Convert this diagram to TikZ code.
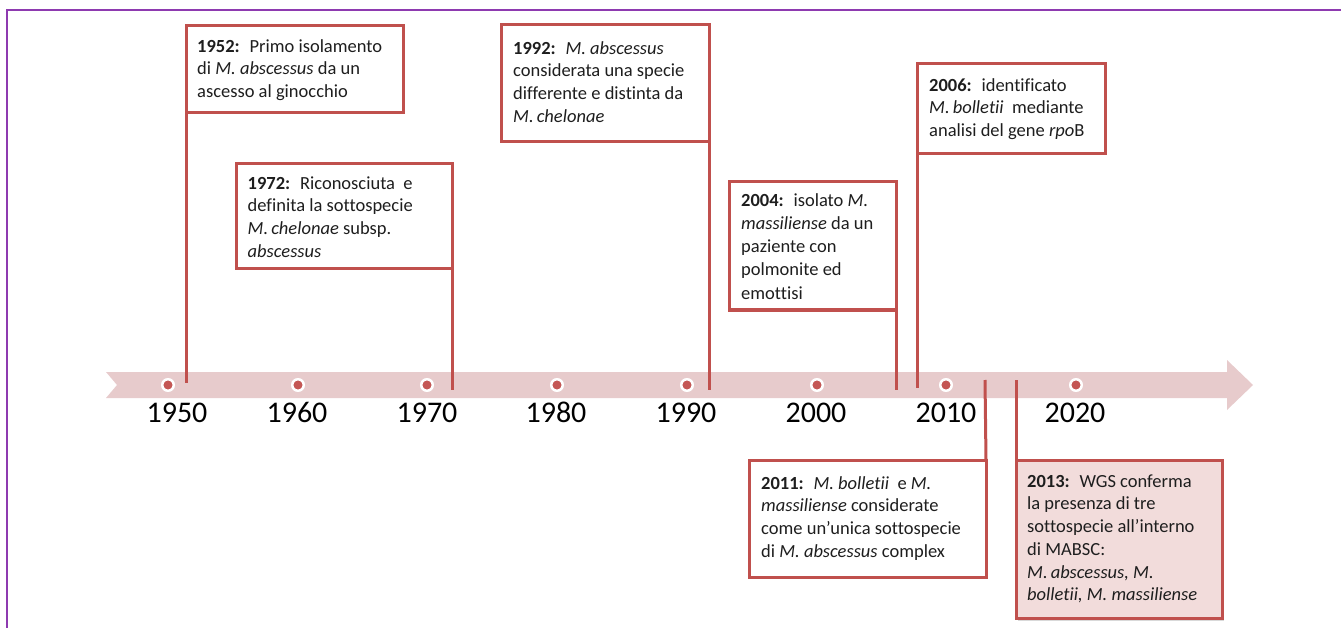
\documentclass[tikz,border=0pt]{standalone}
\usepackage{fontspec}
\setmainfont{Carlito}[Ligatures=NoCommon]
\usetikzlibrary{shadows}
\definecolor{boxred}{RGB}{192,80,77}
\definecolor{bandpink}{RGB}{231,203,204}
\definecolor{dotred}{RGB}{196,86,84}
\definecolor{framepurple}{RGB}{142,58,176}
\definecolor{boxfill}{RGB}{242,220,219}
\definecolor{txt}{RGB}{30,30,30}
\begin{document}
\begin{tikzpicture}[x=1pt,y=-1pt,
  evbox/.style={draw=boxred, line width=3pt, fill=white, outer sep=0pt, inner sep=0pt, anchor=north west},
  evtext/.style={anchor=north west, inner sep=0pt, align=left, text=txt, font=\fontsize{18.5}{22.7}\selectfont},
  conn/.style={draw=boxred, line width=3pt},
  yearlbl/.style={anchor=base, inner sep=0pt, text=black, font=\fontsize{30}{36}\selectfont},
  tdot/.style={circle, fill=dotred, draw=white, line width=2.5pt, minimum size=11.5pt, inner sep=0pt}
]
\useasboundingbox (0,0) rectangle (1341,628);
% frame
\draw[framepurple, line width=2.6pt] (7,630) -- (7,10) -- (1343,10);
% band arrow
\fill[bandpink] (106,372) -- (1227,372) -- (1227,360) -- (1253,385) -- (1227,410) -- (1227,398) -- (106,398) -- (117,385) -- cycle;
% dots
\foreach \i/\x in {1950/168,1960/298,1970/427,1980/557,1990/687,2000/817,2010/946,2020/1076}
  \node[tdot] (d\i) at (\x,385) {};
% year labels
\node[yearlbl] (y1950) at (177,422) {1950};
\node[yearlbl] (y1960) at (297,422) {1960};
\node[yearlbl] (y1970) at (427,422) {1970};
\node[yearlbl] (y1980) at (556,422) {1980};
\node[yearlbl] (y1990) at (686,422) {1990};
\node[yearlbl] (y2000) at (816,422) {2000};
\node[yearlbl] (y2010) at (946,422) {2010};
\node[yearlbl] (y2020) at (1075,422) {2020};
% boxes
\node[evbox, minimum width=217pt, minimum height=87pt] (b1952) at (186,26) {};
\node[evbox, minimum width=216pt, minimum height=105pt] (b1972) at (236,164) {};
\node[evbox, minimum width=208pt, minimum height=117pt] (b1992) at (501,25) {};
\node[evbox, minimum width=167pt, minimum height=128pt] (b2004) at (729,182) {};
\node[evbox, minimum width=188pt, minimum height=90pt] (b2006) at (917,63.5) {};
\node[evbox, minimum width=237pt, minimum height=117pt] (b2011) at (749,460) {};
\node[evbox, fill=boxfill, minimum width=206pt, minimum height=158pt,
      drop shadow={shadow xshift=2pt, shadow yshift=-3pt, opacity=0.3}] (b2013) at (1016,460) {};
% connector ends
\coordinate (e1952) at (186,383);
\coordinate (e1972) at (452,390);
\coordinate (e1992) at (709,390);
\coordinate (e2004) at (896,390);
\coordinate (e2006) at (917,388);
\coordinate (e2011) at (985,380);
\coordinate (e2013) at (1016,380);
\draw[conn] (b1952.south west) -- (e1952);
\draw[conn] (b1972.south east) -- (e1972);
\draw[conn] (b1992.south east) -- (e1992);
\draw[conn] (b2004.south east) -- (e2004);
\draw[conn] (b2006.south west) -- (e2006);
\draw[conn] (b2011.north east) -- (e2011);
\draw[conn] (b2013.north west) -- (e2013);
% texts
\node[evtext] (t1952) at (197,38) {\rule{0pt}{14pt}\textbf{1952:}~ Primo isolamento\\di \textit{M. abscessus} da un\\ascesso al ginocchio};
\node[evtext] (t1972) at (247.5,175) {\rule{0pt}{14pt}\textbf{1972:}~ Riconosciuta~ e\\definita la sottospecie\\\textit{M.\,chelonae} subsp.\\\textit{abscessus}};
\node[evtext] (t1992) at (513,40) {\rule{0pt}{14pt}\textbf{1992:}~ \textit{M. abscessus}\\considerata una specie\\differente e distinta da\\\textit{M.\,chelonae}};
\node[evtext, font=\fontsize{18.5}{23.2}\selectfont] (t2004) at (741,192) {\rule{0pt}{14pt}\textbf{2004:}~ isolato \textit{M.}\\\textit{massiliense} da un\\paziente con\\polmonite ed\\emottisi};
\node[evtext] (t2006) at (929,77) {\rule{0pt}{14pt}\textbf{2006:}~ identificato\\\textit{M.\,bolletii}~ mediante\\analisi del gene \textit{rpo}B};
\node[evtext] (t2011) at (761,475) {\rule{0pt}{14pt}\textbf{2011:}~ \textit{M. bolletii}~ e \textit{M.}\\\textit{massiliense} considerate\\come un’unica sottospecie\\di \textit{M. abscessus} complex};
\node[evtext] (t2013) at (1027,473) {\rule{0pt}{14pt}\textbf{2013:}~ WGS conferma\\la presenza di tre\\sottospecie all’interno\\di MABSC:\\\textit{M.\,abscessus, M.}\\\textit{bolletii, M. massiliense}};
\end{tikzpicture}
\end{document}
